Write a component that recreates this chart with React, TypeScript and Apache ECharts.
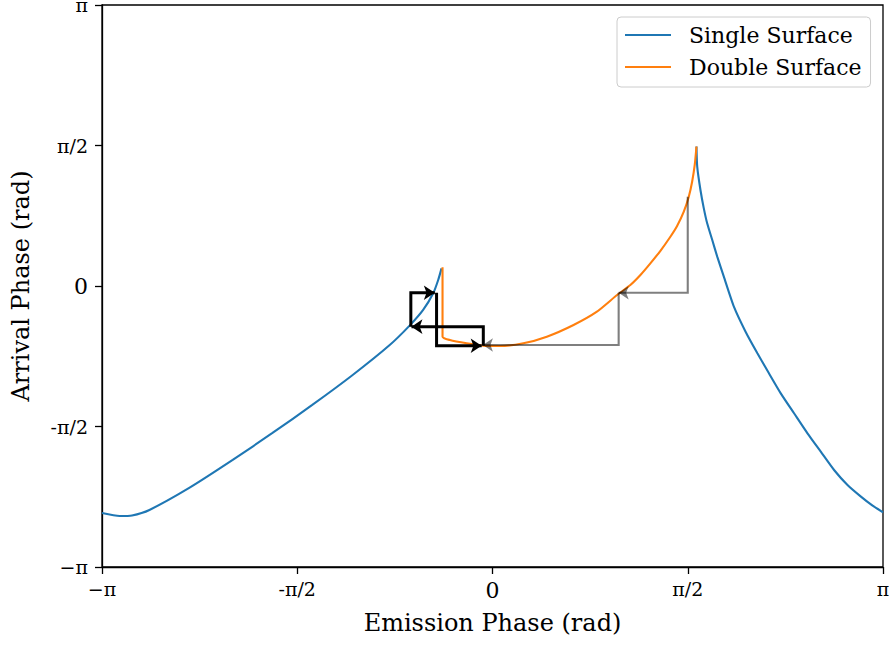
import React, { useEffect, useRef } from 'react';
import * as echarts from 'echarts';

const PI = Math.PI;
const tickLabels = ['−π', '-π/2', '0', 'π/2', 'π'];

// Single surface — left branch
const singleLeftX = [-3.1416, -3.0, -2.9, -2.76, -2.44, -2.09, -1.77, -1.45, -1.125, -0.827, -0.665, -0.558, -0.477, -0.437, -0.41];
const singleLeftY = [-2.538, -2.571, -2.565, -2.504, -2.258, -1.945, -1.643, -1.33, -0.995, -0.66, -0.44, -0.268, -0.082, 0.067, 0.197];
// Single surface — right branch
const singleRightX = [1.641, 1.647, 1.673, 1.7, 1.727, 1.768, 1.808, 1.861, 1.942, 2.036, 2.131, 2.224, 2.319, 2.426, 2.534, 2.641, 2.748, 2.856, 2.964, 3.058, 3.1416];
const singleRightY = [1.56, 1.334, 1.073, 0.868, 0.701, 0.514, 0.328, 0.104, -0.231, -0.511, -0.752, -0.976, -1.2, -1.423, -1.647, -1.852, -2.057, -2.225, -2.355, -2.456, -2.53];
// Double surface
const doubleX = [-0.402, -0.402, -0.343, -0.208, -0.074, 0.06, 0.248, 0.437, 0.652, 0.84, 1.002, 1.109, 1.19, 1.27, 1.351, 1.431, 1.485, 1.539, 1.579, 1.606, 1.627, 1.641];
const doubleY = [0.209, -0.567, -0.604, -0.641, -0.667, -0.671, -0.641, -0.567, -0.436, -0.287, -0.101, 0.011, 0.123, 0.253, 0.394, 0.551, 0.671, 0.831, 0.998, 1.166, 1.353, 1.56];

// Annotation arrows: start (x0, y0), corner at (x0, y1), end (x1, y1)
const grayArrowX0 = [1.5708, 1.015];
const grayArrowY0 = [0.998, -0.075];
const grayArrowX1 = [1.015, -0.077];
const grayArrowY1 = [-0.075, -0.66];

const blackArrowX0 = [-0.074, -0.657, -0.45];
const blackArrowY0 = [-0.668, -0.455, -0.075];
const blackArrowX1 = [-0.652, -0.464, -0.087];
const blackArrowY1 = [-0.455, -0.075, -0.668];

const zip = (xs: number[], ys: number[]) => xs.map((x, i) => [x, ys[i]]);

const FONT = 'DejaVu Serif';

function arrowSeries(x0: number[], y0: number[], x1: number[], y1: number[], opacity: number, width: number) {
  const out: any[] = [];
  x0.forEach((_, i) => {
    out.push({
      type: 'line',
      data: [[x0[i], y0[i]], [x0[i], y1[i]], [x1[i], y1[i]]],
      showSymbol: false,
      silent: true,
      lineStyle: { color: '#000', opacity, width, join: 'miter' },
      z: 5,
    });
  });
  out.push({
    type: 'lines',
    coordinateSystem: 'cartesian2d',
    silent: true,
    symbol: ['none', 'arrow'],
    symbolSize: width > 2.5 ? 11 : 10,
    lineStyle: { color: '#000', width: 0, opacity },
    z: 6,
    data: x1.map((x, i) => {
      const dir = x < x0[i] ? 1 : -1;
      return { coords: [[x + dir * 0.08, y1[i]], [x, y1[i]]] };
    }),
  });
  return out;
}

export default function App() {
  const ref = useRef<HTMLDivElement>(null);
  useEffect(() => {
    if (!ref.current) return;
    const chart = echarts.init(ref.current, null, { renderer: 'svg' });
    const labelFmt = (v: number) => {
      const i = Math.round(v / (PI / 2)) + 2;
      const t = tickLabels[i] ?? '';
      return t === '0' ? '{z|0}' : '{p|' + t + '}';
    };
    const rich = {
      z: { fontFamily: FONT, fontSize: 22, color: '#000' },
      p: { fontFamily: FONT, fontSize: 19, color: '#000' },
    };
    const axisCommon = {
      type: 'value',
      min: -PI,
      max: PI,
      interval: PI / 2,
      splitLine: { show: false },
      axisLine: { onZero: false, lineStyle: { color: '#000', width: 1.3 } },
      axisTick: { inside: false, length: 7, lineStyle: { color: '#000', width: 1.3 } },
      nameLocation: 'middle',
      nameTextStyle: { fontFamily: FONT, fontSize: 24, color: '#000' },
    };
    const curve = { type: 'line', showSymbol: false, smooth: 0.2 };
    chart.setOption({
      animation: false,
      backgroundColor: '#fff',
      grid: {
        left: 102, right: 6, top: 5, bottom: 78,
        outerBoundsMode: 'none',
        containLabel: false,
        show: true, borderColor: '#000', borderWidth: 1.3, backgroundColor: 'transparent',
      },
      xAxis: {
        ...axisCommon,
        name: 'Emission Phase (rad)',
        nameGap: 44,
        axisLabel: { formatter: labelFmt, rich, margin: 12 },
      },
      yAxis: {
        ...axisCommon,
        name: 'Arrival Phase (rad)',
        nameGap: 69,
        axisLabel: { formatter: labelFmt, rich, margin: 14 },
      },
      legend: {
        data: ['Single Surface', 'Double Surface'],
        left: 617,
        top: 17,
        orient: 'vertical',
        icon: 'rect',
        itemWidth: 46,
        itemHeight: 2,
        itemGap: 6,
        padding: [5, 9, 7, 8],
        borderColor: '#cccccc',
        borderWidth: 1,
        borderRadius: 4,
        backgroundColor: 'rgba(255,255,255,0.8)',
        textStyle: { fontFamily: FONT, fontSize: 22, color: '#000', lineHeight: 26, padding: [0, 0, 0, 13] },
      },
      series: [
        {
          ...curve, name: 'Single Surface', data: zip(singleLeftX, singleLeftY),
          color: '#1f77b4', lineStyle: { width: 2.1, color: '#1f77b4' }, z: 2,
        },
        {
          ...curve, name: 'Single Surface', data: zip(singleRightX, singleRightY),
          color: '#1f77b4', lineStyle: { width: 2.1, color: '#1f77b4' }, z: 2,
        },
        {
          ...curve, name: 'Double Surface', data: zip(doubleX, doubleY),
          color: '#ff7f0e', lineStyle: { width: 2.1, color: '#ff7f0e' }, z: 3,
        },
        ...arrowSeries(grayArrowX0, grayArrowY0, grayArrowX1, grayArrowY1, 0.5, 2.1),
        ...arrowSeries(blackArrowX0, blackArrowY0, blackArrowX1, blackArrowY1, 1, 3),
      ],
    });
    return () => chart.dispose();
  }, []);
  return <div ref={ref} style={{ position: 'fixed', left: 0, top: 0, width: 889, height: 645 }} />;
}
